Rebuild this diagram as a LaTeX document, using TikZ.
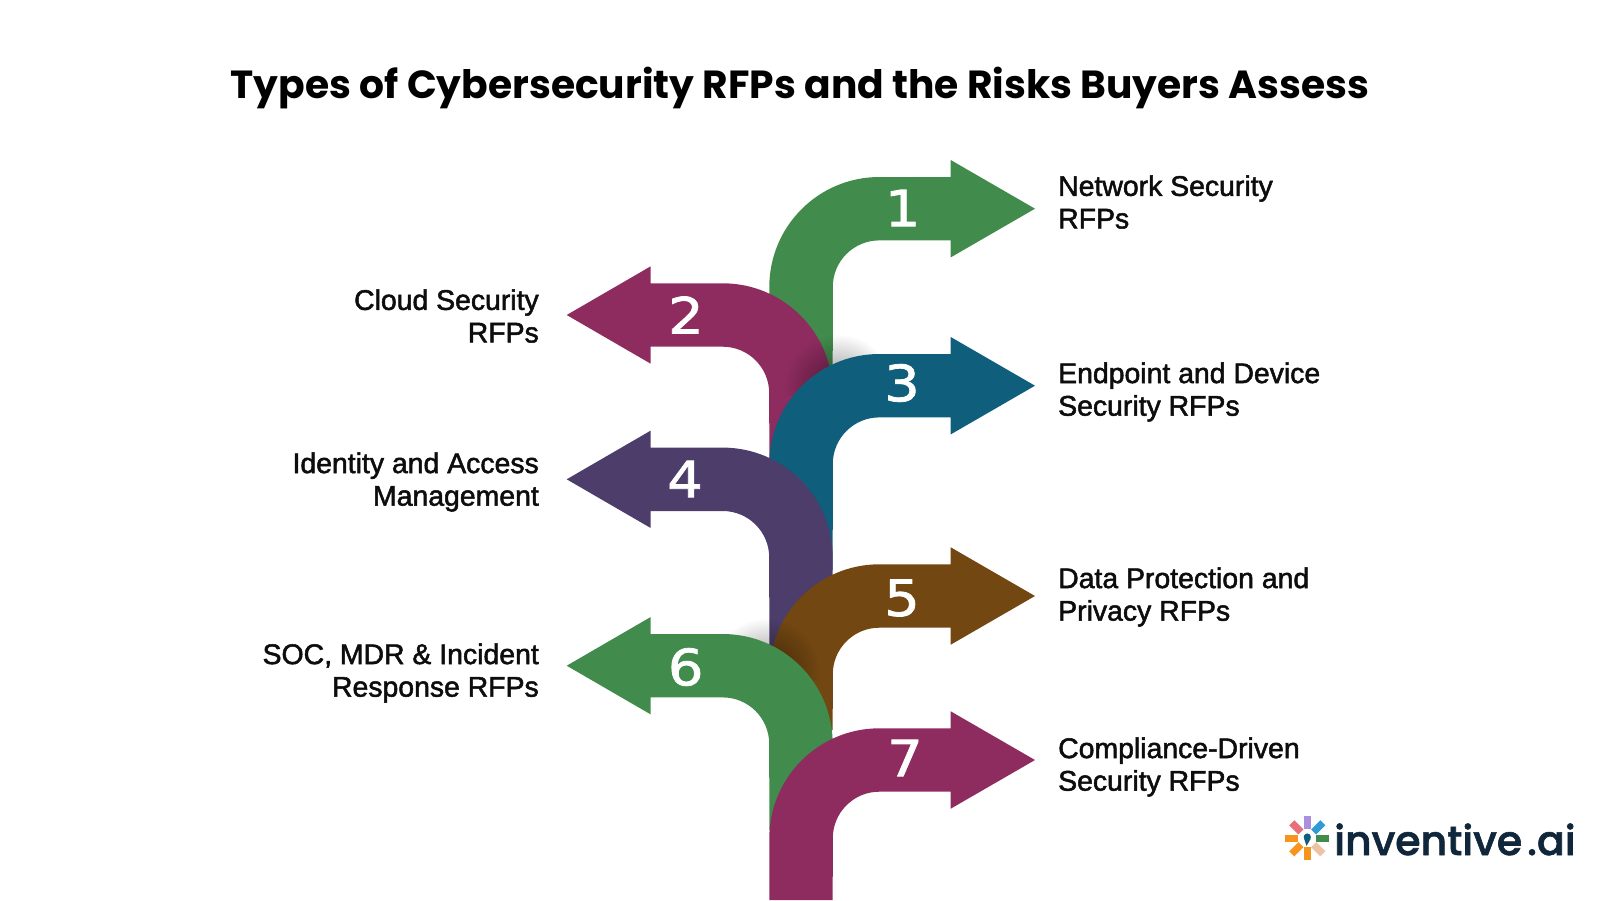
\documentclass[tikz,border=0pt]{standalone}
\usepackage{fontspec}
\setmainfont{Liberation Sans}
\newfontfamily\titlefont{Poppins}
\newfontfamily\numfont[FakeBold=1.5,FakeStretch=1.12]{DejaVu Sans}
\newfontfamily\logofont[FakeBold=1.5]{Poppins Medium}
\newfontfamily\labelfont[FakeBold=1.8]{Liberation Sans}
\usetikzlibrary{fadings}
\definecolor{arrowGreen}{HTML}{418C4C}
\definecolor{arrowPlum}{HTML}{8E2C60}
\definecolor{arrowTeal}{HTML}{0F5F7C}
\definecolor{arrowPurple}{HTML}{4C3D6B}
\definecolor{arrowBrown}{HTML}{724712}
\definecolor{logoInk}{HTML}{10263A}
\definecolor{petalCoral}{HTML}{E8707A}
\definecolor{petalLilac}{HTML}{A98FDC}
\definecolor{petalBlue}{HTML}{2F9BD6}
\definecolor{petalPeach}{HTML}{EEC3A3}
\definecolor{petalOrange}{HTML}{F7941E}
\tikzfading[name=softEdge, inner color=transparent!55, outer color=transparent!100]
\tikzstyle{rightLabel} = [anchor=west, align=left, inner sep=0, text=black!95, font=\labelfont\fontsize{28.4}{32.6}\selectfont]
\tikzstyle{leftLabel} = [anchor=east, align=right, inner sep=0, text=black!95, font=\labelfont\fontsize{28.4}{32.6}\selectfont]
\tikzstyle{number} = [white, font=\numfont\fontsize{50}{50}\selectfont]
\tikzstyle{softShadow} = [black, path fading=softEdge]
% #1 colour, #2 y of the tip, #3 y where the stem ends
\newcommand{\arrowRight}[3]{
  \fill[#1] (769.3,#3) -- (769.3,#2-31.7+110) arc[start angle=180, end angle=270, radius=110]
    -- (950.7,#2-31.7) -- (950.7,#2-48.7) -- (1035,#2) -- (950.7,#2+48.7) -- (950.7,#2+31.7)
    -- (879.3,#2+31.7) arc[start angle=270, end angle=180, radius=46.5] -- (832.7,#3) -- cycle;
}
\newcommand{\arrowLeft}[3]{
  \fill[#1] (832.7,#3) -- (832.7,#2-31.7+110) arc[start angle=0, end angle=-90, radius=110]
    -- (650.7,#2-31.7) -- (650.7,#2-48.7) -- (566.7,#2) -- (650.7,#2+48.7) -- (650.7,#2+31.7)
    -- (722.7,#2+31.7) arc[start angle=-90, end angle=0, radius=46.5] -- (769.3,#3) -- cycle;
}
% #1 colour, #2 angle
\newcommand{\logoPetal}[2]{
  \fill[#1, shift={(1307.3,838.3)}, rotate=#2] (9,-3.6) rectangle (22,3.6);
}

\begin{document}
\begin{tikzpicture}[x=1pt,y=-1pt]
  \useasboundingbox (0,0) rectangle (1600,900);
  \node[font=\titlefont\bfseries\fontsize{39.2}{50}\selectfont] (title) at (800,88) {Types of Cybersecurity RFPs and the Risks Buyers Assess};

  % arrows, each one over the one before
  \arrowRight{arrowGreen}{208.7}{390}
  \arrowLeft{arrowPlum}{315}{470}
  \begin{scope}
    \clip (700,300) rectangle (900,395);
    \fill[softShadow] (838,388) circle[radius=54];
  \end{scope}
  \arrowRight{arrowTeal}{385.7}{570}
  \arrowLeft{arrowPurple}{479.3}{660}
  \arrowRight{arrowBrown}{596}{730}
  \begin{scope}
    \clip (700,600) rectangle (900,680);
    \fill[softShadow] (766,672) circle[radius=54];
  \end{scope}
  \arrowLeft{arrowGreen}{665.7}{830}
  \arrowRight{arrowPlum}{760}{900}

  \node[number] (n1) at (902.7,208) {1};
  \node[number] (n2) at (686,315) {2};
  \node[number] (n3) at (902,383) {3};
  \node[number] (n4) at (685,479) {4};
  \node[number] (n5) at (902,598) {5};
  \node[number] (n6) at (685.7,667) {6};
  \node[number] (n7) at (905,758) {7};

  \node[rightLabel] (l1) at (1058,202) {Network Security\\RFPs};
  \node[leftLabel] (l2) at (539,316) {Cloud Security\\RFPs};
  \node[rightLabel] (l3) at (1058,392) {Endpoint and Device\\Security RFPs};
  \node[leftLabel] (l4) at (539,482) {Identity and Access\\Management};
  \node[rightLabel] (l5) at (1058,597) {Data Protection and\\Privacy RFPs};
  \node[leftLabel] (l6) at (539,673) {SOC, MDR \& Incident\\Response RFPs};
  \node[rightLabel] (l7) at (1058,767) {Compliance-Driven\\Security RFPs};

  % logo
  \logoPetal{petalLilac}{90}
  \logoPetal{petalBlue}{45}
  \logoPetal{arrowGreen}{0}
  \logoPetal{petalPeach}{-45}
  \logoPetal{petalOrange}{-90}
  \logoPetal{petalOrange}{-135}
  \logoPetal{petalOrange}{180}
  \logoPetal{petalCoral}{135}
  \fill[arrowTeal] (1307.3,837) circle[radius=3.6];
  \fill[arrowTeal] (1304,838.5) -- (1306.5,846) -- (1310.8,838.5) -- cycle;
  \node[anchor=base west, inner sep=0, text=logoInk, font=\logofont\fontsize{41}{42}\selectfont] (logo) at (1334,855) {\spaceskip=5pt inventive .ai};
\end{tikzpicture}
\end{document}
